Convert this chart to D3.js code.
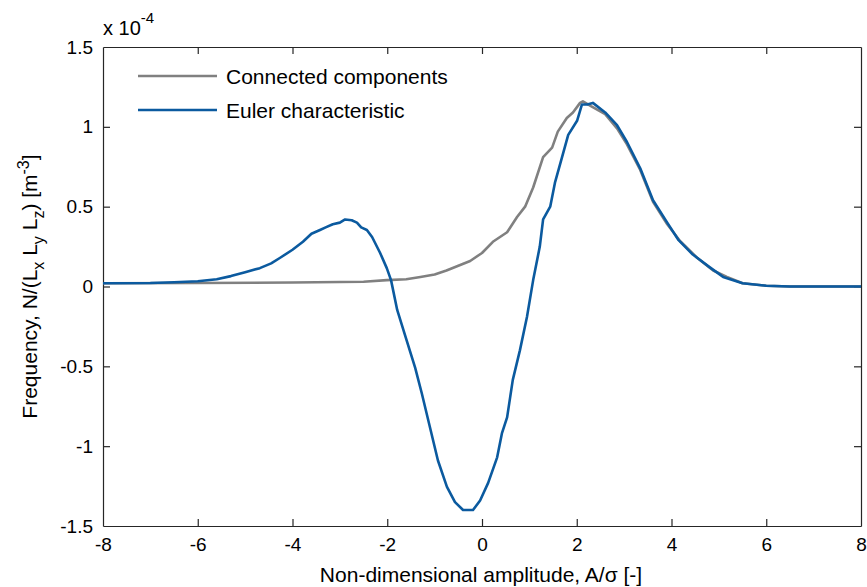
<!DOCTYPE html>
<html>
<head>
<meta charset="utf-8">
<script src="https://cdn.jsdelivr.net/npm/d3@7"></script>
<style>
  body { margin: 0; background: #fff; }
  svg text { font-family: Arial, "Liberation Sans", sans-serif; fill: #000; }
</style>
</head>
<body>
<div id="chart"></div>
<script>
// --- data (y in units of 1e-4) ---
const connectedX = [-8, -6, -4, -3, -2.5, -2.01, -1.6, -1.3, -1.0, -0.75, -0.5, -0.25, 0.0, 0.23, 0.53, 0.74, 0.91, 1.08, 1.29, 1.48, 1.6, 1.79, 1.92, 2.07, 2.13, 2.3, 2.6, 2.85, 3.06, 3.34, 3.61, 3.91, 4.18, 4.54, 4.88, 5.17, 5.5, 6.0, 6.5, 8];
const connectedY = [0.02, 0.022, 0.025, 0.028, 0.03, 0.04, 0.045, 0.06, 0.075, 0.1, 0.13, 0.16, 0.21, 0.28, 0.34, 0.435, 0.5, 0.62, 0.81, 0.87, 0.97, 1.055, 1.09, 1.15, 1.16, 1.13, 1.08, 0.99, 0.89, 0.73, 0.53, 0.39, 0.285, 0.18, 0.1, 0.06, 0.02, 0.005, 0.0, 0.0];

const eulerX = [-8, -7, -6.5, -6, -5.6, -5.3, -5.0, -4.69, -4.45, -4.26, -4.0, -3.78, -3.6, -3.42, -3.3, -3.15, -3.0, -2.89, -2.75, -2.64, -2.55, -2.43, -2.32, -2.15, -2.01, -1.92, -1.79, -1.63, -1.41, -1.27, -1.1, -0.93, -0.74, -0.57, -0.4, -0.19, -0.04, 0.13, 0.32, 0.42, 0.53, 0.65, 0.8, 0.95, 1.08, 1.22, 1.29, 1.44, 1.54, 1.69, 1.82, 2.01, 2.11, 2.22, 2.34, 2.6, 2.85, 3.06, 3.34, 3.61, 3.91, 4.15, 4.45, 4.81, 5.09, 5.5, 6.0, 6.5, 8];
const eulerY = [0.02, 0.022, 0.027, 0.033, 0.045, 0.065, 0.09, 0.115, 0.145, 0.18, 0.23, 0.28, 0.33, 0.354, 0.37, 0.39, 0.4, 0.42, 0.415, 0.4, 0.37, 0.354, 0.31, 0.21, 0.115, 0.04, -0.147, -0.3, -0.51, -0.67, -0.88, -1.09, -1.255, -1.35, -1.4, -1.4, -1.34, -1.23, -1.07, -0.92, -0.82, -0.585, -0.4, -0.19, 0.04, 0.25, 0.42, 0.5, 0.65, 0.81, 0.95, 1.04, 1.14, 1.14, 1.15, 1.09, 1.01, 0.905, 0.74, 0.54, 0.4, 0.29, 0.2, 0.12, 0.06, 0.02, 0.005, 0.0, 0.0];

const seriesNames = ["Connected components", "Euler characteristic"];
const seriesColors = ["#808080", "#0b5a9f"];
const xTicks = [-8, -6, -4, -2, 0, 2, 4, 6, 8];
const yTicks = [-1.5, -1, -0.5, 0, 0.5, 1, 1.5];

// --- layout ---
const W = 867, H = 587;
const mLeft = 103, mRight = 861, mTop = 47, mBottom = 526;

const svg = d3.select("#chart").append("svg")
    .attr("width", W).attr("height", H);

const x = d3.scaleLinear().domain([-8, 8]).range([mLeft, mRight]);
const y = d3.scaleLinear().domain([-1.5, 1.5]).range([mBottom, mTop]);

const axisColor = "#262626";
const tickLen = 7;
// plain hyphen for negatives, like the original
const plainFormat = d => String(d);

// axes (MATLAB style box, ticks inward)
let xAxis = svg.append("g")
    .attr("transform", `translate(0, ${mBottom})`)
    .call(d3.axisBottom(x).tickValues(xTicks).tickSizeInner(-tickLen).tickSizeOuter(0).tickPadding(12)
        .tickFormat(plainFormat));
let xAxisTop = svg.append("g")
    .attr("transform", `translate(0, ${mTop})`)
    .call(d3.axisTop(x).tickValues(xTicks).tickSizeInner(-tickLen).tickSizeOuter(0).tickFormat(""));
let yAxis = svg.append("g")
    .attr("transform", `translate(${mLeft}, 0)`)
    .call(d3.axisLeft(y).tickValues(yTicks).tickSizeInner(-tickLen).tickSizeOuter(0).tickPadding(10)
        .tickFormat(plainFormat));
let yAxisRight = svg.append("g")
    .attr("transform", `translate(${mRight}, 0)`)
    .call(d3.axisRight(y).tickValues(yTicks).tickSizeInner(-tickLen).tickSizeOuter(0).tickFormat(""));

for (let ax of [xAxis, xAxisTop, yAxis, yAxisRight]) {
    ax.select(".domain").attr("stroke", axisColor).attr("stroke-width", 1.2);
    ax.selectAll(".tick line").attr("stroke", axisColor).attr("stroke-width", 1.2);
    ax.selectAll(".tick text")
        .style("font-family", "Arial, 'Liberation Sans', sans-serif")
        .style("font-size", "19px").attr("fill", "#000");
}
// hide tick marks that sit on the box corners
xAxis.selectAll(".tick line").filter(d => d === -8 || d === 8).remove();
xAxisTop.selectAll(".tick line").filter(d => d === -8 || d === 8).remove();
yAxis.selectAll(".tick line").filter(d => d === -1.5 || d === 1.5).remove();
yAxisRight.selectAll(".tick line").filter(d => d === -1.5 || d === 1.5).remove();

// lines
const line = d3.line()
    .x(d => x(d[0]))
    .y(d => y(d[1]));

const connected = connectedX.map((v, i) => [v, connectedY[i]]);
const euler = eulerX.map((v, i) => [v, eulerY[i]]);

svg.append("path")
    .datum(connected)
    .attr("d", line)
    .attr("fill", "none")
    .attr("stroke", seriesColors[0])
    .attr("stroke-width", 2.6)
    .attr("stroke-linejoin", "round");

svg.append("path")
    .datum(euler)
    .attr("d", line)
    .attr("fill", "none")
    .attr("stroke", seriesColors[1])
    .attr("stroke-width", 2.6)
    .attr("stroke-linejoin", "round");

// legend
seriesNames.forEach((name, i) => {
    let ly = 76 + i * 34;
    svg.append("line")
        .attr("x1", 138).attr("x2", 217)
        .attr("y1", ly).attr("y2", ly)
        .attr("stroke", seriesColors[i]).attr("stroke-width", 2.6);
    svg.append("text")
        .attr("x", 226).attr("y", ly + 8)
        .style("font-size", "21px")
        .text(name);
});

// exponent label
let expText = svg.append("text")
    .attr("x", 103).attr("y", 35)
    .style("font-size", "20px");
expText.append("tspan").text("x 10");
expText.append("tspan").attr("dy", -12).style("font-size", "15px").text("-4");

// x label
svg.append("text")
    .attr("x", (mLeft + mRight) / 2 - 1).attr("y", 582)
    .attr("text-anchor", "middle")
    .style("font-size", "21px")
    .text("Non-dimensional amplitude, A/σ [-]");

// y label
let yLabel = svg.append("text")
    .attr("transform", `translate(37, ${(mTop + mBottom) / 2}) rotate(-90)`)
    .attr("text-anchor", "middle")
    .style("font-size", "21px");
yLabel.append("tspan").text("Frequency, N/(L");
yLabel.append("tspan").attr("dy", 7).style("font-size", "16px").text("x");
yLabel.append("tspan").attr("dy", -7).text(" L");
yLabel.append("tspan").attr("dy", 7).style("font-size", "16px").text("y");
yLabel.append("tspan").attr("dy", -7).text(" L");
yLabel.append("tspan").attr("dy", 7).style("font-size", "16px").text("z");
yLabel.append("tspan").attr("dy", -7).text(") [m");
yLabel.append("tspan").attr("dy", -8).style("font-size", "16px").text("-3");
yLabel.append("tspan").attr("dy", 8).text("]");
</script>
</body>
</html>
